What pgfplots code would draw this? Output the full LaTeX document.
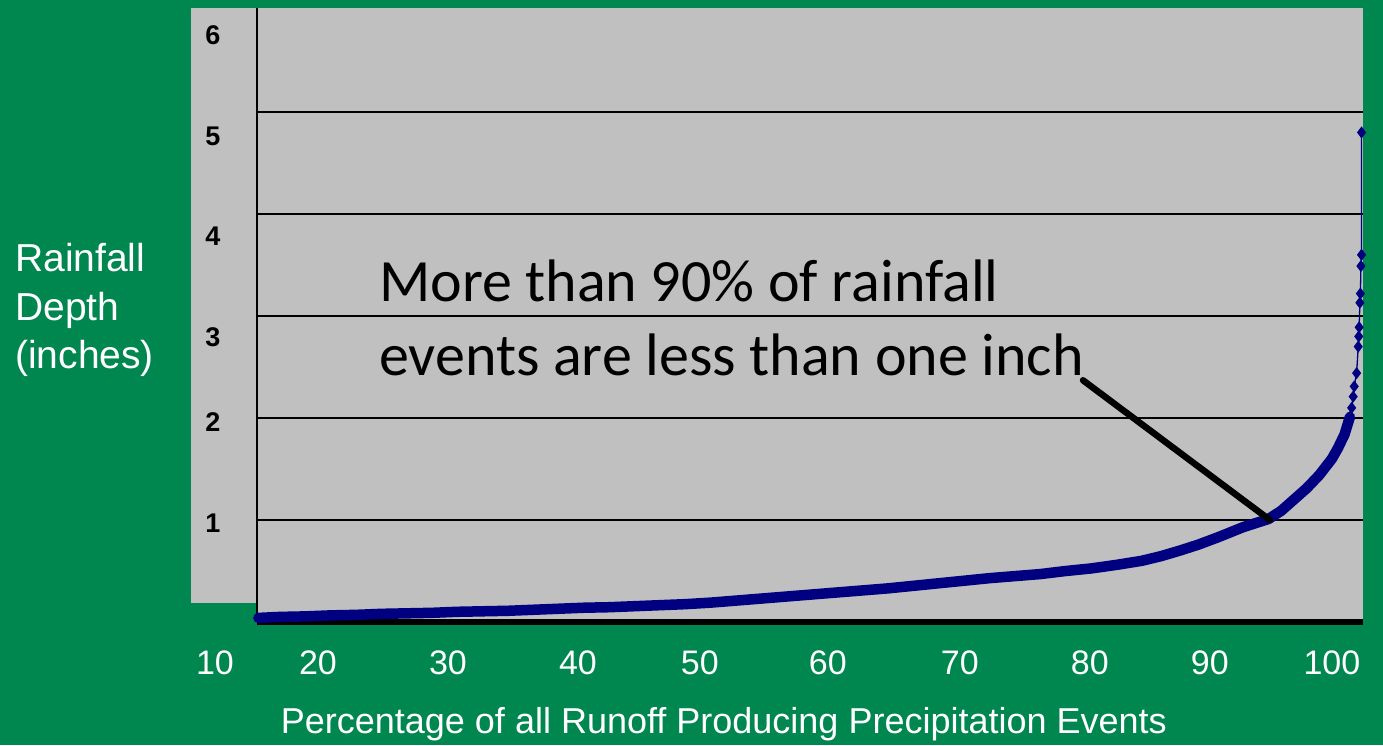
\documentclass[border=0pt]{standalone}
\usepackage{fontspec}
\setmainfont{Liberation Sans}
\newfontfamily\annfont{Carlito}
\usepackage{pgfplots}
\usepackage{pgfplotstable}
\pgfplotsset{compat=1.18}
\definecolor{bggreen}{RGB}{0,135,80}
\definecolor{panelgray}{RGB}{192,192,192}
\definecolor{curvenavy}{RGB}{0,0,128}

\pgfplotstableread{
x y
15.3 0.04
17 0.05
19 0.055
21 0.065
23 0.07
25 0.08
27 0.085
29 0.09
31 0.10
33 0.105
35 0.11
37 0.12
39 0.13
41 0.14
43 0.145
45 0.155
47 0.165
49 0.175
51 0.19
53 0.21
55 0.23
57 0.25
59 0.27
61 0.29
63 0.31
65 0.33
67 0.355
69 0.38
71 0.405
73 0.43
75 0.45
77 0.47
79 0.50
81 0.525
83 0.56
85 0.60
86.5 0.645
88 0.70
89.5 0.76
91 0.83
92 0.88
93 0.93
94 0.97
95 1.01
96 1.09
97 1.20
98 1.31
99 1.44
100 1.60
100.5 1.71
101 1.84
101.42 2.01
}\maindata

\pgfplotstableread{
x y
101.42 2.01
101.56 2.10
101.68 2.21
101.76 2.31
101.95 2.44
102.08 2.70
102.12 2.80
102.15 2.89
102.21 3.13
102.25 3.22
102.29 3.49
102.34 3.60
102.34 4.80
}\taildata

\begin{document}
\begin{tikzpicture}[x=1pt,y=1pt]
\fill[bggreen] (0,0) rectangle (1383,745);
\useasboundingbox (0,0) rectangle (1383,745);
\fill[panelgray] (191,142) rectangle (257,737);
\node[anchor=base west, text=white, font=\fontsize{39}{48}\selectfont, inner sep=0] at (15,473.3) {Rainfall};
\node[anchor=base west, text=white, font=\fontsize{39}{48}\selectfont, inner sep=0] at (15,424.8) {Depth};
\node[anchor=base west, text=white, font=\fontsize{39}{48}\selectfont, inner sep=0] at (15,376.3) {(inches)};
\node[anchor=base west, text=white, font=\fontsize{36}{36}\selectfont, inner sep=0] at (280.7,12) {Percentage of all Runoff Producing Precipitation Events};
\begin{axis}[
  at={(257pt,123pt)}, anchor=south west,
  scale only axis, width=1106pt, height=614pt,
  xmin=15.19, xmax=102.45, ymin=0, ymax=6.02,
  axis x line*=bottom, axis y line*=left,
  x axis line style={line width=5.5pt, -},
  y axis line style={line width=1.2pt, -},
  axis background/.style={fill=panelgray},
  major tick length=0pt,
  xtick={20,30.26,40.51,50.13,60.23,70.64,80.9,90.37,100},
  xticklabels={20,30,40,50,60,70,80,90,100},
  xticklabel style={text=white, font=\fontsize{34}{34}\selectfont, anchor=center, yshift=-40.5pt},
  ytick={0.97,1.96,2.79,3.78,4.76,5.75},
  yticklabels={1,2,3,4,5,6},
  yticklabel style={text=black, font=\fontsize{27}{27}\selectfont\bfseries, anchor=center, xshift=-44pt},
  extra y ticks={1,2,3,4,5},
  extra y tick labels={},
  extra y tick style={ymajorgrids=true, major grid style={black, line width=1.1pt}},
  clip=false,
]
\addplot[curvenavy, line width=10.5pt, line join=round, line cap=round, no markers] table[x=x,y=y] {\maindata};
\addplot[curvenavy, line width=1.3pt, mark=diamond*, mark size=5pt, mark options={solid}] table[x=x,y=y] {\taildata};
\node[anchor=base west, inner sep=0, text=black, font=\annfont\fontsize{60}{60}\selectfont] at (axis cs:24.81,3.14) {More than 90\% of rainfall};
\node[anchor=base west, inner sep=0, text=black, font=\annfont\fontsize{60}{60}\selectfont] at (axis cs:24.81,2.42) {events are less than one inch};
\draw[black, line width=6.5pt, line cap=round] (axis cs:80.36,2.37) -- (axis cs:95.11,1.0);
\node[text=white, font=\fontsize{34}{34}\selectfont, anchor=center, yshift=-40.5pt] at (axis cs:11.87,0) {10};
\end{axis}
\end{tikzpicture}
\end{document}
